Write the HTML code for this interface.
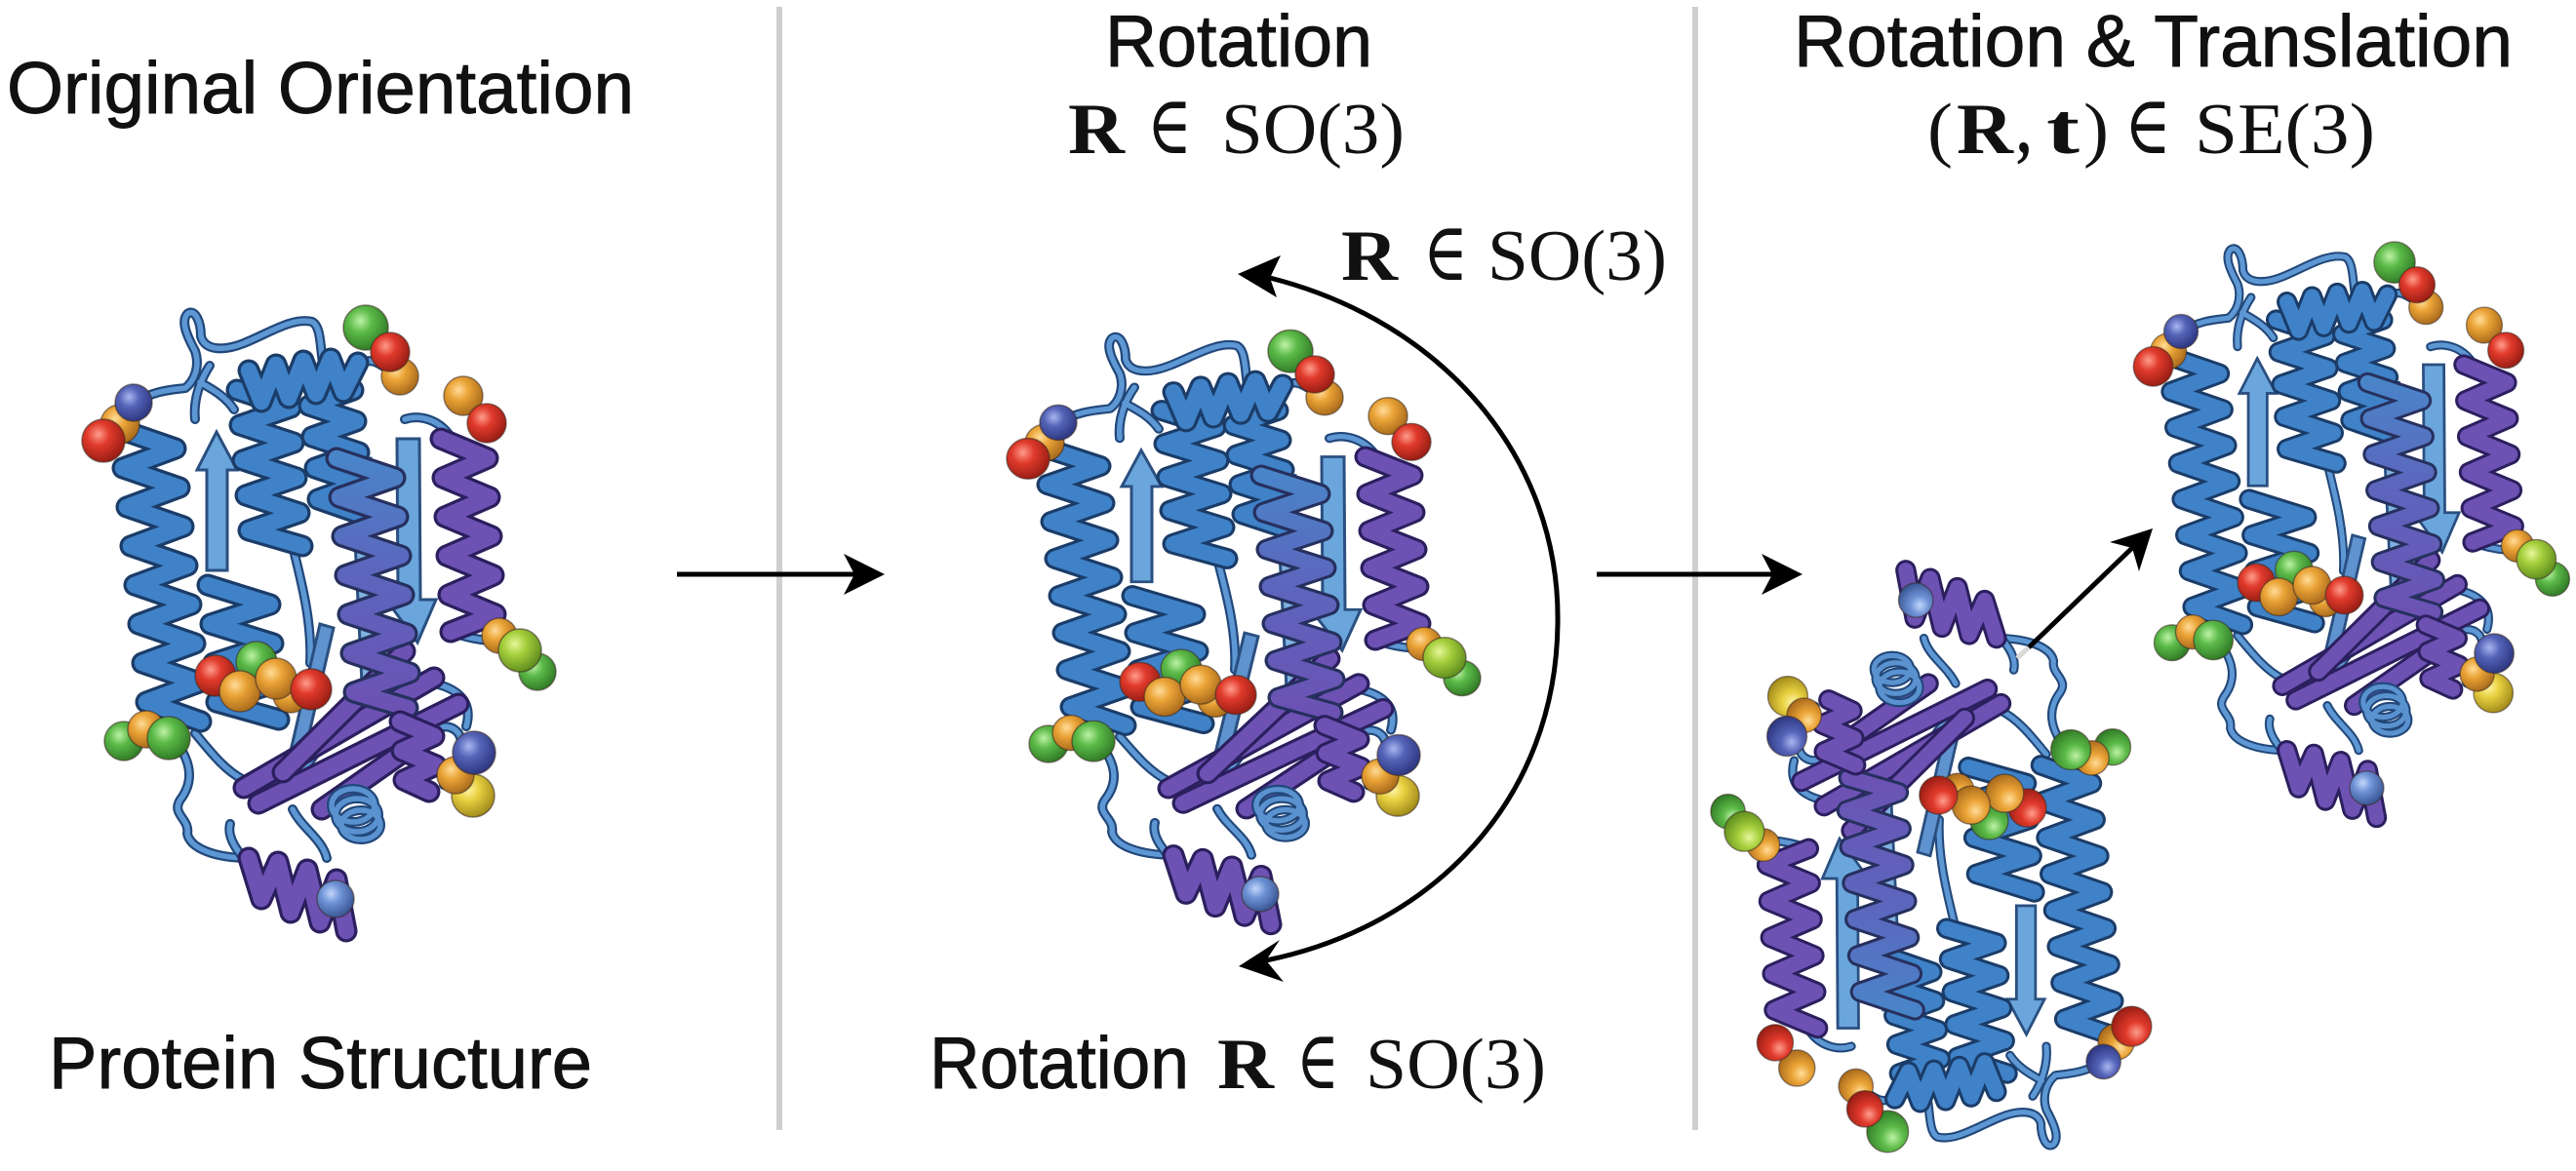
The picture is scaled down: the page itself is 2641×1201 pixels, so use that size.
<!DOCTYPE html>
<html>
<head>
<meta charset="utf-8">
<style>
html,body{margin:0;padding:0;background:#ffffff;}
body{width:2641px;height:1201px;overflow:hidden;}
svg{display:block;}
.lbl{font-family:"Liberation Sans",Arial,sans-serif;font-size:75px;fill:#111;stroke:#111;stroke-width:0.9px;}
.m{font-family:"Liberation Serif","DejaVu Serif",serif;font-size:74px;fill:#111;}
.me{font-family:"DejaVu Serif","Liberation Serif",serif;font-size:84px;fill:#111;}
.mb{font-family:"Liberation Serif","DejaVu Serif",serif;font-size:74px;font-weight:bold;fill:#111;}
.lo{fill:none;stroke:#22487a;stroke-width:10;stroke-linecap:round;stroke-linejoin:round;}
.li{fill:none;stroke:#5e98d4;stroke-width:5.5;stroke-linecap:round;stroke-linejoin:round;}
.ho{fill:none;stroke:#1b3c68;stroke-width:23;stroke-linecap:round;stroke-linejoin:round;}
.hb{fill:none;stroke:#3f82c8;stroke-width:16.5;stroke-linecap:round;stroke-linejoin:round;}
.po{fill:none;stroke:#2b1f5e;stroke-width:23;stroke-linecap:round;stroke-linejoin:round;}
.pb{fill:none;stroke:#6d52b4;stroke-width:16.5;stroke-linecap:round;stroke-linejoin:round;}
.sph{stroke:#3a2a20;stroke-opacity:.55;stroke-width:1.5;}
</style>
</head>
<body>
<svg width="2641" height="1201" viewBox="0 0 2641 1201" xmlns="http://www.w3.org/2000/svg">
<defs>
  <radialGradient id="sR" cx="0.38" cy="0.35" r="0.7"><stop offset="0" stop-color="#ff9c8c"/><stop offset="0.38" stop-color="#e03a2b"/><stop offset="1" stop-color="#931b12"/></radialGradient>
  <radialGradient id="sO" cx="0.38" cy="0.35" r="0.7"><stop offset="0" stop-color="#ffdc98"/><stop offset="0.38" stop-color="#eaa336"/><stop offset="1" stop-color="#a4661a"/></radialGradient>
  <radialGradient id="sG" cx="0.38" cy="0.35" r="0.7"><stop offset="0" stop-color="#bdf2a6"/><stop offset="0.38" stop-color="#5cba48"/><stop offset="1" stop-color="#2d7624"/></radialGradient>
  <radialGradient id="sL" cx="0.38" cy="0.35" r="0.7"><stop offset="0" stop-color="#e6f79a"/><stop offset="0.38" stop-color="#a6cf3c"/><stop offset="1" stop-color="#5a8a1c"/></radialGradient>
  <radialGradient id="sY" cx="0.38" cy="0.35" r="0.7"><stop offset="0" stop-color="#fff6a8"/><stop offset="0.38" stop-color="#e8d040"/><stop offset="1" stop-color="#9c8618"/></radialGradient>
  <radialGradient id="sB" cx="0.38" cy="0.35" r="0.7"><stop offset="0" stop-color="#aab6f0"/><stop offset="0.38" stop-color="#5564b8"/><stop offset="1" stop-color="#2a337c"/></radialGradient>
  <radialGradient id="sC" cx="0.38" cy="0.35" r="0.7"><stop offset="0" stop-color="#c2d6fa"/><stop offset="0.38" stop-color="#6f93d6"/><stop offset="1" stop-color="#34508e"/></radialGradient>
  <linearGradient id="gBP" x1="0" y1="0" x2="0" y2="1"><stop offset="0" stop-color="#4a84c8"/><stop offset="0.45" stop-color="#5c66bd"/><stop offset="1" stop-color="#6b52b3"/></linearGradient>

  <g id="prot">
    <!-- loops -->
    <path class="lo" d="M137,413 C160,400 175,400 190,398 C200,390 205,375 200,360 C192,345 185,330 192,322 C200,316 206,330 206,345 C210,360 230,360 250,352 C275,342 300,325 320,330 C330,335 328,360 332,378"/>
    <path class="li" d="M137,413 C160,400 175,400 190,398 C200,390 205,375 200,360 C192,345 185,330 192,322 C200,316 206,330 206,345 C210,360 230,360 250,352 C275,342 300,325 320,330 C330,335 328,360 332,378"/>
    <path class="lo" d="M200,430 C198,410 205,390 215,375 M240,420 C230,405 215,398 205,392"/>
    <path class="li" d="M200,430 C198,410 205,390 215,375 M240,420 C230,405 215,398 205,392"/>
    <path class="lo" d="M180,760 C195,780 200,800 185,820 C175,835 195,840 192,855 C195,870 220,880 255,880"/>
    <path class="li" d="M180,760 C195,780 200,800 185,820 C175,835 195,840 192,855 C195,870 220,880 255,880"/>
    <path class="lo" d="M300,830 C310,850 330,860 335,880 M300,560 C310,600 320,640 318,680 M340,740 C330,770 310,790 300,800"/>
    <path class="li" d="M300,830 C310,850 330,860 335,880 M300,560 C310,600 320,640 318,680 M340,740 C330,770 310,790 300,800"/>
    <path class="lo" d="M430,760 C445,745 460,740 470,752 C480,770 470,800 455,805 M462,448 C450,430 430,425 415,430 M372,372 C385,365 395,380 410,385 M462,648 C480,655 500,658 512,656 M200,752 C215,770 230,790 250,800"/>
    <path class="li" d="M430,760 C445,745 460,740 470,752 C480,770 470,800 455,805 M462,448 C450,430 430,425 415,430 M372,372 C385,365 395,380 410,385 M462,648 C480,655 500,658 512,656 M200,752 C215,770 230,790 250,800"/>
    <path class="lo" d="M440,700 C470,705 485,720 478,745 M258,890 C245,875 232,860 236,845"/>
    <path class="li" d="M440,700 C470,705 485,720 478,745 M258,890 C245,875 232,860 236,845"/>

    <!-- background strands -->
    <path d="M360,470 L380,470 L392,722 L372,722 Z" fill="#7fb2e0" stroke="#2a4f80" stroke-width="3"/>
    <path d="M212,585 L212,482 L202,482 L222,443 L243,482 L233,482 L233,585 Z" fill="#6aa6dc" stroke="#2a4f80" stroke-width="3"/>
    <path d="M407,450 L430,450 L431,615 L447,615 L428,659 L396,615 L408,615 Z" fill="#6aa6dc" stroke="#2a4f80" stroke-width="3"/>
    <path d="M298,770 L328,640 L342,644 L312,774 Z" fill="#5f93cf" stroke="#2a4f80" stroke-width="3"/>

    <!-- helices -->
    <polyline class="ho" points="122,440 180,460 126,480 184,500 130,520 188,540 134,560 192,580 138,600 196,620 142,640 200,660 146,680 204,700 150,720 206,740"/>
    <polyline class="hb" points="122,440 180,460 126,480 184,500 130,520 188,540 134,560 192,580 138,600 196,620 142,640 200,660 146,680 204,700 150,720 206,740"/>
    <polyline class="ho" points="213,600 277,620 216,640 280,660 219,680 283,700 222,720 286,738"/>
    <polyline class="hb" points="213,600 277,620 216,640 280,660 219,680 283,700 222,720 286,738"/>
    <polyline class="ho" points="243,400 298,418 246,436 301,454 249,472 304,490 252,508 307,526 255,544 310,560"/>
    <polyline class="hb" points="243,400 298,418 246,436 301,454 249,472 304,490 252,508 307,526 255,544 310,560"/>
    <polyline class="ho" points="314,384 362,400 317,416 365,432 320,448 368,464 323,480 370,496 326,512 372,528"/>
    <polyline class="hb" points="314,384 362,400 317,416 365,432 320,448 368,464 323,480 370,496 326,512 372,528"/>
    <polyline class="ho" points="255,380 268,412 283,374 296,408 311,370 324,404 339,368 352,402 367,372"/>
    <polyline class="hb" points="255,380 268,412 283,374 296,408 311,370 324,404 339,368 352,402 367,372"/>

    <!-- purple sheet -->
    <polyline class="po" points="250,808 445,695"/>
    <polyline class="pb" points="250,808 445,695"/>
    <polyline class="po" points="265,824 470,722"/>
    <polyline class="pb" points="265,824 470,722"/>
    <polyline class="po" points="290,792 415,668"/>
    <polyline class="pb" points="290,792 415,668"/>
    <polyline class="po" points="330,830 430,760"/>
    <polyline class="pb" points="330,830 430,760"/>

    <polyline fill="none" stroke="#26305e" stroke-width="23" stroke-linecap="round" stroke-linejoin="round" points="345,470 405,490 348,510 408,530 351,550 411,570 354,590 414,610 357,630 417,650 360,670 420,690 363,710 418,726"/>
    <polyline fill="none" stroke="url(#gBP)" stroke-width="16.5" stroke-linecap="round" stroke-linejoin="round" points="345,470 405,490 348,510 408,530 351,550 411,570 354,590 414,610 357,630 417,650 360,670 420,690 363,710 418,726"/>
    <polyline class="po" points="452,450 500,470 454,490 502,510 456,530 504,550 458,570 506,590 460,610 508,630 462,648"/>
    <polyline class="pb" points="452,450 500,470 454,490 502,510 456,530 504,550 458,570 506,590 460,610 508,630 462,648"/>
    <polyline class="po" points="255,880 268,922 285,884 298,936 315,892 328,946 345,902 355,955"/>
    <polyline class="pb" points="255,880 268,922 285,884 298,936 315,892 328,946 345,902 355,955"/>
    <polyline class="po" points="410,740 445,755 412,770 447,785 414,800 440,812"/>
    <polyline class="pb" points="410,740 445,755 412,770 447,785 414,800 440,812"/>

    <!-- small coil -->
    <g fill="none" stroke="#22487a" stroke-width="10">
      <ellipse cx="362" cy="826" rx="22" ry="17"/><ellipse cx="366" cy="836" rx="22" ry="17"/><ellipse cx="370" cy="846" rx="20" ry="15"/>
    </g>
    <g fill="none" stroke="#5a92d0" stroke-width="5.5">
      <ellipse cx="362" cy="826" rx="22" ry="17"/><ellipse cx="366" cy="836" rx="22" ry="17"/><ellipse cx="370" cy="846" rx="20" ry="15"/>
    </g>

    <!-- spheres -->
    <g class="sph">
      <circle cx="123" cy="435" r="20" fill="url(#sO)"/>
      <circle cx="106" cy="452" r="22" fill="url(#sR)"/>
      <circle cx="137" cy="413" r="19" fill="url(#sB)"/>

      <circle cx="375" cy="336" r="23" fill="url(#sG)"/>
      <circle cx="410" cy="386" r="19" fill="url(#sO)"/>
      <circle cx="400" cy="361" r="20" fill="url(#sR)"/>

      <circle cx="475" cy="406" r="20" fill="url(#sO)"/>
      <circle cx="499" cy="434" r="20" fill="url(#sR)"/>

      <circle cx="512" cy="652" r="18" fill="url(#sO)"/>
      <circle cx="551" cy="689" r="19" fill="url(#sG)"/>
      <circle cx="533" cy="667" r="22" fill="url(#sL)"/>

      <circle cx="221" cy="693" r="21" fill="url(#sR)"/>
      <circle cx="263" cy="679" r="21" fill="url(#sG)"/>
      <circle cx="246" cy="709" r="21" fill="url(#sO)"/>
      <circle cx="298" cy="713" r="18" fill="url(#sO)"/>
      <circle cx="283" cy="696" r="21" fill="url(#sO)"/>
      <circle cx="319" cy="707" r="21" fill="url(#sR)"/>

      <circle cx="127" cy="760" r="20" fill="url(#sG)"/>
      <circle cx="150" cy="748" r="19" fill="url(#sO)"/>
      <circle cx="173" cy="757" r="22" fill="url(#sG)"/>

      <circle cx="485" cy="816" r="22" fill="url(#sY)"/>
      <circle cx="467" cy="795" r="19" fill="url(#sO)"/>
      <circle cx="486" cy="772" r="22" fill="url(#sB)"/>

      <circle cx="344" cy="922" r="19" fill="url(#sC)"/>
    </g>
  </g>
</defs>

<!-- dividers -->
<rect x="796" y="7" width="6" height="1152" fill="#cfcfcf"/>
<rect x="1735" y="7" width="6" height="1152" fill="#cfcfcf"/>

<!-- proteins -->
<use href="#prot"/>
<use href="#prot" transform="translate(948 41) scale(1 0.95)"/>
<use href="#prot" transform="translate(2110 -40) scale(0.92)"/>
<use href="#prot" transform="translate(2284 1473) scale(-0.93)"/>

<!-- headings -->
<text class="lbl" x="7" y="116" textLength="643" lengthAdjust="spacingAndGlyphs">Original Orientation</text>
<text class="lbl" x="1133" y="68" textLength="274" lengthAdjust="spacingAndGlyphs">Rotation</text>
<text class="lbl" x="1839" y="68" textLength="737" lengthAdjust="spacingAndGlyphs">Rotation &amp; Translation</text>
<text class="lbl" x="50" y="1116" textLength="557" lengthAdjust="spacingAndGlyphs">Protein Structure</text>
<text class="lbl" x="953" y="1116" textLength="266" lengthAdjust="spacingAndGlyphs">Rotation</text>

<!-- math: top middle -->
<text class="mb" x="1095" y="157" textLength="58" lengthAdjust="spacingAndGlyphs">R</text>
<text class="me" x="1176" y="157" textLength="46" lengthAdjust="spacingAndGlyphs">∈</text>
<text class="m" x="1252" y="157" textLength="188" lengthAdjust="spacingAndGlyphs">SO(3)</text>

<!-- math: upper right of arc -->
<text class="mb" x="1375" y="287" textLength="58" lengthAdjust="spacingAndGlyphs">R</text>
<text class="me" x="1459" y="287" textLength="46" lengthAdjust="spacingAndGlyphs">∈</text>
<text class="m" x="1525" y="287" textLength="184" lengthAdjust="spacingAndGlyphs">SO(3)</text>

<!-- math: bottom -->
<text class="mb" x="1248" y="1116" textLength="58" lengthAdjust="spacingAndGlyphs">R</text>
<text class="me" x="1329" y="1116" textLength="44" lengthAdjust="spacingAndGlyphs">∈</text>
<text class="m" x="1400" y="1116" textLength="185" lengthAdjust="spacingAndGlyphs">SO(3)</text>

<!-- math: SE(3) -->
<text class="m" x="1976" y="157" textLength="26" lengthAdjust="spacingAndGlyphs">(</text>
<text class="mb" x="2006" y="157" textLength="58" lengthAdjust="spacingAndGlyphs">R</text>
<text class="mb" x="2068" y="157" textLength="14" lengthAdjust="spacingAndGlyphs">,</text>
<text class="mb" x="2098" y="157" textLength="34" lengthAdjust="spacingAndGlyphs">t</text>
<text class="m" x="2136" y="157" textLength="26" lengthAdjust="spacingAndGlyphs">)</text>
<text class="me" x="2178" y="157" textLength="48" lengthAdjust="spacingAndGlyphs">∈</text>
<text class="m" x="2250" y="157" textLength="185" lengthAdjust="spacingAndGlyphs">SE(3)</text>

<!-- arrows -->
<line x1="694" y1="589" x2="880" y2="589" stroke="#000" stroke-width="5"/>
<polygon points="907,589 865,568 876,589 865,610" fill="#000"/>
<line x1="1637" y1="589" x2="1822" y2="589" stroke="#000" stroke-width="5"/>
<polygon points="1848,589 1806,568 1817,589 1806,610" fill="#000"/>

<line x1="2068" y1="675" x2="2080" y2="664" stroke="#d8d8d8" stroke-width="5"/>
<line x1="2080" y1="664" x2="2187" y2="561" stroke="#000" stroke-width="5"/>
<polygon points="2207,542 2163,556 2186,562 2193,586" fill="#000"/>

<path d="M1302,285 C1480,330 1600,470 1597,640 C1595,820 1470,950 1298,985" fill="none" stroke="#000" stroke-width="5"/>
<polygon points="1269,281 1313,262 1302,285 1309,305" fill="#000"/>
<polygon points="1270,991 1312,964 1298,985 1316,1007" fill="#000"/>
</svg>
</body>
</html>
